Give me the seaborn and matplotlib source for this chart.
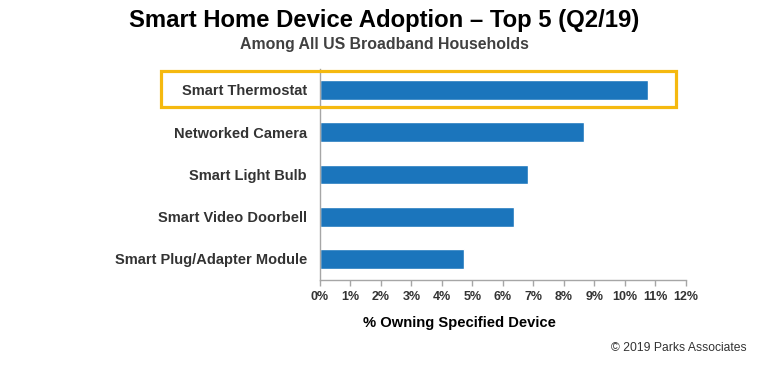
import matplotlib
matplotlib.use("Agg")
import matplotlib.pyplot as plt
import seaborn as sns
import pandas as pd
from matplotlib.patches import Rectangle
from matplotlib.ticker import FuncFormatter

categories = ["Smart Thermostat", "Networked Camera", "Smart Light Bulb",
              "Smart Video Doorbell", "Smart Plug/Adapter Module"]
values = [10.77, 8.65, 6.81, 6.37, 4.74]
xticks = list(range(0, 13))

sns.set_theme(style="white")
plt.rcParams['font.family'] = ['Liberation Sans', 'DejaVu Sans']

df = pd.DataFrame({"device": categories, "pct": values})

fig = plt.figure(figsize=(7.69, 3.76), dpi=100)
ax = fig.add_axes([0.4161, 0.2553, 0.4756, 0.5615])

sns.barplot(data=df, y="device", x="pct", orient="h", color="#1B75BC",
            saturation=1, width=0.47, ax=ax)

ax.set_xlim(0, 12)
ax.set_ylim(4.5, -0.5)
ax.set_xticks(xticks)
ax.xaxis.set_major_formatter(FuncFormatter(lambda v, p: f"{int(round(v))}%"))
for s in ["top", "right"]:
    ax.spines[s].set_visible(False)
for s in ["left", "bottom"]:
    ax.spines[s].set_color("#A6A6A6")
    ax.spines[s].set_linewidth(1)
ax.tick_params(axis="x", bottom=True, length=4, color="#A6A6A6", width=1,
               labelsize=9, labelcolor="#333333", pad=4)
ax.tick_params(axis="y", left=False, length=0, labelsize=10.5, labelcolor="#333333", pad=9.5)
for lbl in ax.get_xticklabels() + ax.get_yticklabels():
    lbl.set_fontweight("bold")
ax.set_xlabel("")
ax.set_ylabel("")

fig.text(0.5, 1 - 20 / 376, "Smart Home Device Adoption \u2013 Top 5 (Q2/19)", ha="center",
         va="center", fontsize=17.2, fontweight="bold", color="#000000")
fig.text(0.5, 1 - 45 / 376, "Among All US Broadband Households", ha="center", va="center",
         fontsize=11.4, fontweight="bold", color="#404040")
fig.text(459 / 769, 1 - 323 / 376, "% Owning Specified Device", ha="center",
         va="center", fontsize=10.6, fontweight="bold", color="#000000")
fig.text(747 / 769, 1 - 348 / 376, "\u00a9 2019 Parks Associates", ha="right",
         va="center", fontsize=8.75, color="#333333")

fig.patches.append(Rectangle((160.7 / 769, 1 - 107.3 / 376), 515 / 769, 36.3 / 376,
                             transform=fig.transFigure, fill=False,
                             edgecolor="#F5B90F", linewidth=2.3, zorder=5))

fig.savefig("out.png", dpi=100)
